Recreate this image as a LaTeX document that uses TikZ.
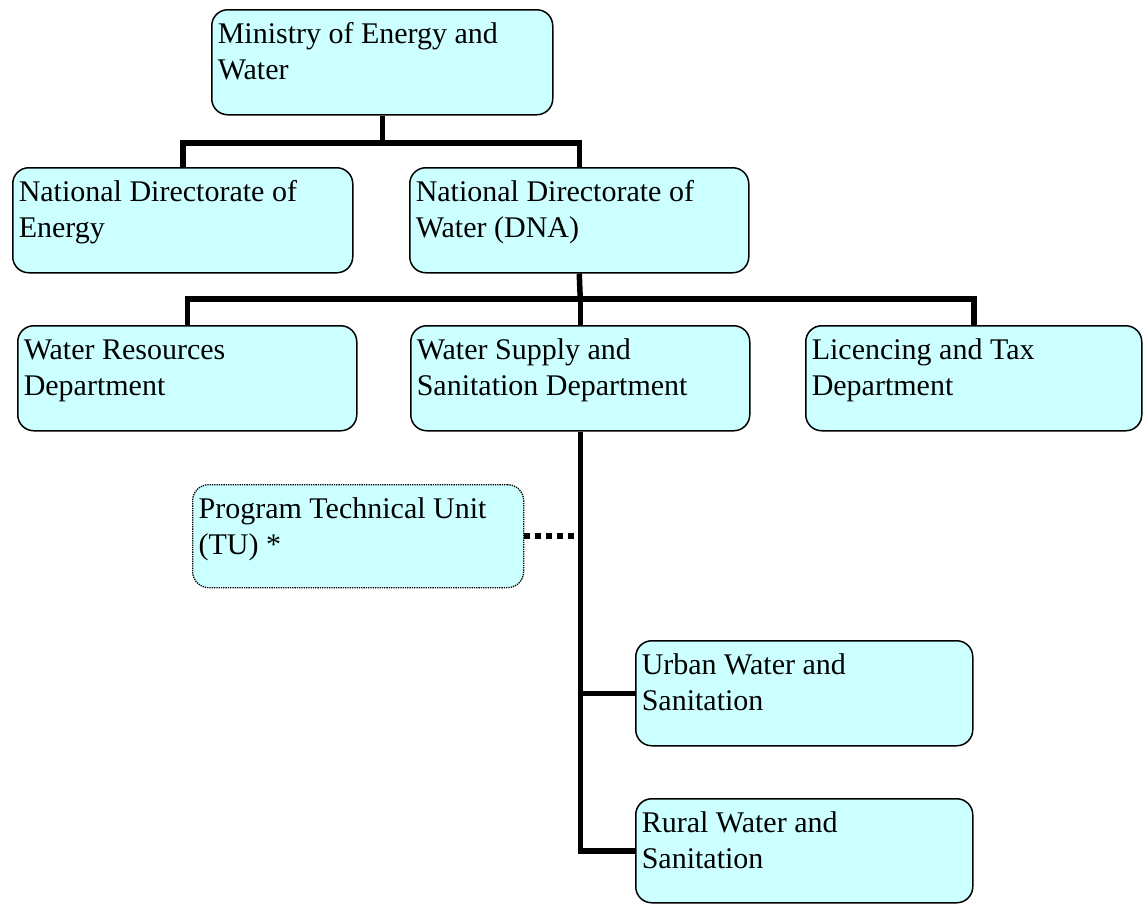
\documentclass[tikz,border=0pt]{standalone}
\usepackage{fontspec}
\setmainfont{Liberation Serif}
\newcommand{\boxtxt}[3]{\parbox[c][#2][t]{#1}{\raggedright\rule{0pt}{34pt}#3}}
\definecolor{boxfill}{HTML}{CCFFFF}
\tikzset{
  orgbox/.style={draw=black, line width=1.5pt, fill=boxfill, rounded corners=16pt,
    inner sep=0pt, anchor=north west, font=\fontsize{30}{36}\selectfont},
  tubox/.style={orgbox, line width=1.3pt, densely dotted},
  conn/.style={line width=5.5pt, black},
  dotconn/.style={line width=5.5pt, black, dash pattern=on 6pt off 5pt}
}
\begin{document}
\begin{tikzpicture}[x=1pt, y=-1pt]
\useasboundingbox (0,0) rectangle (1143,903);
\node[orgbox, minimum width=341pt, minimum height=105pt] (min) at (211,9)
  {\boxtxt{329pt}{105pt}{Ministry of Energy and\\Water}};
\node[orgbox, minimum width=340pt, minimum height=105pt] (nde) at (12,167)
  {\boxtxt{328pt}{105pt}{National Directorate of\\Energy}};
\node[orgbox, minimum width=339pt, minimum height=105pt] (ndw) at (409,167)
  {\boxtxt{327pt}{105pt}{National Directorate of\\Water (DNA)}};
\node[orgbox, minimum width=339pt, minimum height=105pt] (wrd) at (17,325)
  {\boxtxt{327pt}{105pt}{Water Resources\\Department}};
\node[orgbox, minimum width=339pt, minimum height=105pt] (wssd) at (410,325)
  {\boxtxt{327pt}{105pt}{Water Supply and\\Sanitation Department}};
\node[orgbox, minimum width=336pt, minimum height=105pt] (ltd) at (805,325)
  {\boxtxt{324pt}{105pt}{Licencing and Tax\\Department}};
\node[tubox, minimum width=331pt, minimum height=103pt] (ptu) at (192,484)
  {\boxtxt{319pt}{103pt}{Program Technical Unit\\(TU) *}};
\node[orgbox, minimum width=337pt, minimum height=105pt] (uws) at (635,640)
  {\boxtxt{325pt}{105pt}{Urban Water and\\Sanitation}};
\node[orgbox, minimum width=337pt, minimum height=104pt] (rws) at (635,798)
  {\boxtxt{325pt}{104pt}{Rural Water and\\Sanitation}};
\coordinate (j1) at (min.south |- 0,143);
\coordinate (j2) at (wssd.north |- 0,299);
\draw[conn] (min.south) -- (j1);
\draw[conn] (nde.north) |- (j1) -| (ndw.north);
\draw[conn] (ndw.south) -- (j2);
\draw[conn] (wrd.north) |- (j2) -| (ltd.north);
\draw[conn] (j2) -- (wssd.north);
\draw[conn] (wssd.south) |- (rws.west);
\draw[conn] (wssd.south |- uws.west) -- (uws.west);
\draw[dotconn] (ptu.east) -- (ptu.east -| wssd.south);
\end{tikzpicture}
\end{document}
